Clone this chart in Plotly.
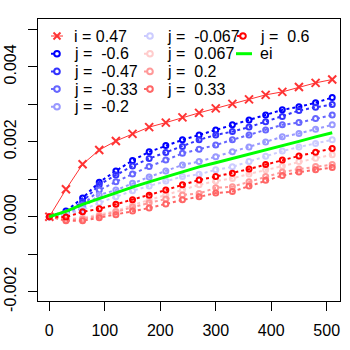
import plotly.graph_objects as go

# ---------------- data (values in units of 1e-3) ----
x_vals = [0, 30, 60, 90, 120, 150, 180, 210, 240, 270, 300, 330, 360, 390, 420, 450, 480, 510]

i_047 = [0, 0.73, 1.40, 1.78, 2.02, 2.21, 2.39, 2.51, 2.65, 2.77, 2.89, 3.01, 3.13, 3.25, 3.33, 3.46, 3.57, 3.66]
j_m060 = [0, 0.15, 0.50, 0.92, 1.22, 1.50, 1.73, 1.90, 2.05, 2.18, 2.31, 2.45, 2.58, 2.71, 2.85, 2.93, 3.04, 3.18]
j_m047 = [0, 0.10, 0.40, 0.85, 1.11, 1.35, 1.55, 1.71, 1.87, 2.05, 2.18, 2.27, 2.39, 2.53, 2.67, 2.83, 2.92, 2.99]
j_m033 = [0, 0.09, 0.31, 0.71, 0.93, 1.14, 1.34, 1.51, 1.69, 1.80, 1.91, 2.05, 2.18, 2.31, 2.45, 2.51, 2.62, 2.71]
j_m020 = [0, 0.05, 0.23, 0.58, 0.71, 0.89, 1.06, 1.22, 1.38, 1.47, 1.60, 1.73, 1.86, 1.99, 2.13, 2.22, 2.33, 2.45]
j_m0067 = [0, 0.05, 0.18, 0.37, 0.53, 0.69, 0.82, 0.95, 1.07, 1.13, 1.25, 1.33, 1.47, 1.61, 1.75, 1.86, 1.95, 2.05]
j_p0067 = [0, -0.06, -0.03, 0.05, 0.15, 0.31, 0.45, 0.58, 0.71, 0.85, 0.95, 1.02, 1.14, 1.25, 1.35, 1.47, 1.56, 1.65]
j_p020 = [0, -0.09, -0.06, 0.02, 0.13, 0.26, 0.37, 0.47, 0.58, 0.62, 0.77, 0.80, 0.93, 1.07, 1.19, 1.27, 1.34, 1.39]
j_p033 = [0, -0.11, -0.11, -0.03, 0.05, 0.15, 0.23, 0.34, 0.45, 0.53, 0.63, 0.67, 0.82, 0.97, 1.10, 1.19, 1.25, 1.31]
j_p060 = [0, -0.01, 0.13, 0.21, 0.33, 0.45, 0.57, 0.71, 0.85, 0.98, 1.07, 1.16, 1.27, 1.39, 1.51, 1.62, 1.72, 1.82]
ei = [0, 0.14, 0.33, 0.49, 0.65, 0.79, 0.93, 1.07, 1.21, 1.33, 1.44, 1.55, 1.67, 1.78, 1.90, 2.01, 2.13, 2.24]

j_series = [
    ("j =\u00a0\u00a0-0.6", j_m060, "#0000FF"),
    ("j =\u00a0\u00a0-0.47", j_m047, "#3333FF"),
    ("j =\u00a0\u00a0-0.33", j_m033, "#6666FF"),
    ("j =\u00a0\u00a0-0.2", j_m020, "#9999FF"),
    ("j =\u00a0\u00a0-0.067", j_m0067, "#CCCCFF"),
    ("j =\u00a0\u00a00.067", j_p0067, "#FFCCCC"),
    ("j =\u00a0\u00a00.2", j_p020, "#FF9999"),
    ("j =\u00a0\u00a00.33", j_p033, "#FF6666"),
    ("j =\u00a0\u00a00.6", j_p060, "#FF0000"),
]
i_label = "i = 0.47"
i_color = "#FF3333"
ei_label = "ei"
ei_color = "#00FF00"

x_ticks = [0, 100, 200, 300, 400, 500]
y_ticks = [-0.002, -0.001, 0.0, 0.001, 0.002, 0.003, 0.004, 0.005]
y_ticktext = ["-0.002", "", "0.000", "", "0.002", "", "0.004", ""]

scale = 1e-3
FONT = "Liberation Sans, Arial, sans-serif"

fig = go.Figure()

fig.add_trace(go.Scatter(
    x=x_vals, y=[v * scale for v in i_047], mode="lines+markers",
    line=dict(color=i_color, width=1),
    marker=dict(symbol="x-thin-open", size=8, line=dict(color=i_color, width=2)),
    showlegend=False))

for name, vals, col in j_series:
    fig.add_trace(go.Scatter(
        x=x_vals, y=[v * scale for v in vals], mode="lines+markers",
        line=dict(color=col, width=2, dash="dot"),
        marker=dict(symbol="circle-open", size=5, line=dict(color=col, width=2)),
        showlegend=False))

fig.add_trace(go.Scatter(
    x=x_vals, y=[v * scale for v in ei], mode="lines",
    line=dict(color=ei_color, width=3), showlegend=False))

# ---------------- manual legend (3 columns, R style) ----------------------
L, T, W, H = 38, 19, 302, 282
FIG_W = FIG_H = 350


def px(xp):
    return (xp - L) / W


def py(yp):
    return (T + H - yp) / H


row_y = [36 + 17.7 * k for k in range(5)]
col_sym = [57, 150, 243]
col_txt = [72, 165, 258]

entries = [(i_label, i_color, "x")] + [(n, c, "o") for n, _, c in j_series] + [(ei_label, ei_color, "l")]
layout_pos = [(0, 0), (0, 1), (0, 2), (0, 3), (0, 4),
              (1, 0), (1, 1), (1, 2), (1, 3),
              (2, 0), (2, 1)]
shapes = []
annotations = []
for k, (label, col, kind) in enumerate(entries):
    c, r = layout_pos[k]
    cy = row_y[r]
    cx = col_sym[c]
    if kind == "x":
        shapes.append(dict(type="line", xref="paper", yref="paper",
                           x0=px(cx - 6), x1=px(cx + 6), y0=py(cy), y1=py(cy),
                           line=dict(color=col, width=1)))
        d = 3.5
        shapes.append(dict(type="line", xref="paper", yref="paper",
                           x0=px(cx - d), x1=px(cx + d), y0=py(cy - d), y1=py(cy + d),
                           line=dict(color=col, width=2)))
        shapes.append(dict(type="line", xref="paper", yref="paper",
                           x0=px(cx - d), x1=px(cx + d), y0=py(cy + d), y1=py(cy - d),
                           line=dict(color=col, width=2)))
    elif kind == "o":
        shapes.append(dict(type="line", xref="paper", yref="paper",
                           x0=px(cx - 6), x1=px(cx + 6), y0=py(cy), y1=py(cy),
                           line=dict(color=col, width=2, dash="dot")))
        rr = 2.8
        shapes.append(dict(type="circle", xref="paper", yref="paper",
                           x0=px(cx - rr), x1=px(cx + rr), y0=py(cy + rr), y1=py(cy - rr),
                           fillcolor="white", line=dict(color=col, width=2)))
    else:
        shapes.append(dict(type="line", xref="paper", yref="paper",
                           x0=px(cx - 7), x1=px(cx + 9), y0=py(cy), y1=py(cy),
                           line=dict(color=col, width=3)))
    annotations.append(dict(text=label, xref="paper", yref="paper",
                            x=px(col_txt[c]), y=py(cy), xanchor="left", yanchor="middle",
                            showarrow=False, font=dict(family=FONT, size=16, color="black")))

fig.update_layout(
    width=FIG_W, height=FIG_H,
    margin=dict(l=L, r=FIG_W - L - W, t=T, b=FIG_H - T - H, autoexpand=False),
    paper_bgcolor="white", plot_bgcolor="white",
    font=dict(family=FONT, size=16, color="black"),
    shapes=shapes, annotations=annotations,
    showlegend=False,
)
fig.update_xaxes(range=[-20.4, 524], tickvals=x_ticks, ticks="outside", ticklen=9,
                 ticklabelstandoff=6,
                 tickcolor="black", showgrid=False, zeroline=False, automargin=False,
                 showline=True, mirror=True, linecolor="black", linewidth=1,
                 tickfont=dict(family=FONT, size=16, color="black"))
fig.update_yaxes(range=[-0.002249, 0.005274], tickvals=y_ticks, ticktext=y_ticktext,
                 ticks="outside", ticklen=9, tickangle=-90, automargin=False,
                 ticklabelstandoff=6,
                 tickcolor="black", showgrid=False, zeroline=False,
                 showline=True, mirror=True, linecolor="black", linewidth=1,
                 tickfont=dict(family=FONT, size=16, color="black"))

fig.write_html("out.html", config={"displayModeBar": False},
               post_script="document.body.style.margin='0';document.body.style.overflow='hidden';")
